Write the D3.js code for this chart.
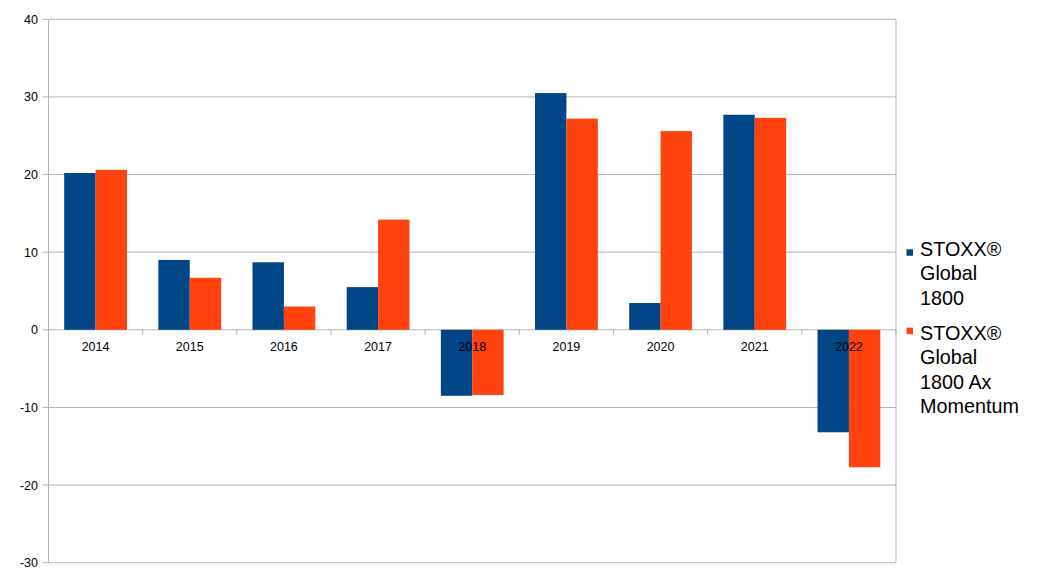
<!DOCTYPE html>
<html><head><meta charset="utf-8">
<script src="https://cdn.jsdelivr.net/npm/d3@7"></script>
<style>body{margin:0;background:#fff}svg{display:block}</style>
</head><body>
<svg id="c" width="1056" height="582"></svg>
<script>
const years = ["2014","2015","2016","2017","2018","2019","2020","2021","2022"];
const global1800 = [20.2, 9.0, 8.7, 5.5, -8.5, 30.5, 3.45, 27.7, -13.2];
const axMomentum = [20.6, 6.7, 3.0, 14.2, -8.4, 27.2, 25.6, 27.3, -17.7];
const seriesNames = [["STOXX®","Global","1800"],["STOXX®","Global","1800 Ax","Momentum"]];
const yTicks = [-30,-20,-10,0,10,20,30,40];
const colors = ["#004586","#ff420e"];

const svg = d3.select("#c");
const L=48.5, R=896, T=19.3, B=562.7;
const y = d3.scaleLinear().domain([-30,40]).range([B,T]);
const x = d3.scaleBand().domain(years).range([L,R]).paddingInner(0).paddingOuter(0);
const inner = d3.scaleBand().domain([0,1]).range([0,x.bandwidth()]).paddingInner(0).paddingOuter(0.5);
const font = "'Liberation Sans', Arial, sans-serif";

// gridlines
svg.append("g").selectAll("line").data(yTicks).join("line")
  .attr("x1",L-6).attr("x2",R).attr("y1",d=>y(d)).attr("y2",d=>y(d))
  .attr("stroke","#b3b3b3").attr("stroke-width",1);
// plot border verticals
svg.append("line").attr("x1",L).attr("x2",L).attr("y1",T).attr("y2",B).attr("stroke","#b3b3b3");
svg.append("line").attr("x1",R).attr("x2",R).attr("y1",T).attr("y2",B).attr("stroke","#b3b3b3");
// x ticks at category boundaries, below zero line
const bounds = years.map(d=>x(d)).concat([R]);
svg.append("g").selectAll("line").data(bounds).join("line")
  .attr("x1",d=>d).attr("x2",d=>d).attr("y1",y(0)).attr("y2",y(0)+5)
  .attr("stroke","#b3b3b3");

// bars
const data = [global1800, axMomentum];
data.forEach((vals,si)=>{
  svg.append("g").selectAll("rect").data(years).join("rect")
    .attr("x",(d)=>x(d)+inner(si))
    .attr("width",inner.bandwidth())
    .attr("y",(d,i)=>Math.min(y(vals[i]),y(0)))
    .attr("height",(d,i)=>Math.abs(y(vals[i])-y(0)))
    .attr("fill",colors[si]);
});

// y labels
svg.append("g").selectAll("text").data(yTicks).join("text")
  .attr("x",38).attr("y",d=>y(d)+4.5).attr("text-anchor","end")
  .attr("font-family",font).attr("font-size",12.5).attr("fill","#000").text(d=>d);
// x labels
svg.append("g").selectAll("text").data(years).join("text")
  .attr("x",d=>x(d)+x.bandwidth()/2).attr("y",351).attr("text-anchor","middle")
  .attr("font-family",font).attr("font-size",12.5).attr("fill","#000").text(d=>d);

// legend
const legTop=[256, 340];
const sqTop=[249.3, 327.7];
seriesNames.forEach((lines,si)=>{
  const g = svg.append("g");
  g.append("rect").attr("x",906.5).attr("y",sqTop[si]).attr("width",6.5).attr("height",6.5).attr("fill",colors[si]);
  lines.forEach((t,li)=>{
    g.append("text").attr("x",920).attr("y",legTop[si]+li*24.4)
      .attr("font-family",font).attr("font-size",19.8).attr("fill","#000").text(t);
  });
});
</script>
</body></html>
